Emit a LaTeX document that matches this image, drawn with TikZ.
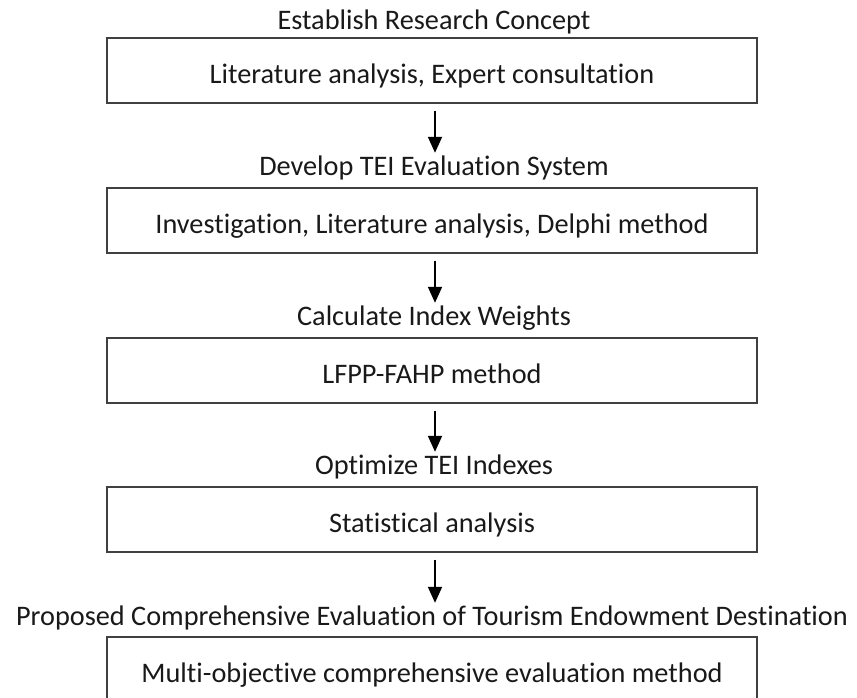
\documentclass[tikz,border=0pt]{standalone}
\usepackage{fontspec}
\setmainfont{Carlito}[Ligatures=NoCommon]
\usetikzlibrary{arrows.meta}
\begin{document}
\begin{tikzpicture}[x=1pt,y=-1pt,
  every node/.style={font=\fontsize{28.3}{32}\selectfont, text=black!90},
  stagebox/.style={draw=black!75, line width=1.3pt, minimum width=650pt,
    minimum height=65pt, inner sep=0pt, text height=25.6pt, text depth=0pt},
  stagetitle/.style={anchor=base, inner sep=0pt, text height=18pt, text depth=0pt},
  flowarrow/.style={line width=1.8pt, -{Triangle[length=16pt,width=14pt]}}]
  \useasboundingbox (0,0) rectangle (857,697);

  % method boxes
  \node[stagebox] (b1) at (432,70.5)  {Literature analysis, Expert consultation};
  \node[stagebox] (b2) at (432,220.5) {Investigation, Literature analysis, Delphi method};
  \node[stagebox] (b3) at (432,370.5) {LFPP-FAHP method};
  \node[stagebox] (b4) at (432,519.5) {Statistical analysis};
  \node[stagebox] (b5) at (432,669.5) {Multi-objective comprehensive evaluation method};

  % stage titles above each box
  \node[stagetitle] (t1) at (434,29)  {Establish Research Concept};
  \node[stagetitle] (t2) at (434,175) {Develop TEI Evaluation System};
  \node[stagetitle] (t3) at (434,325) {Calculate Index Weights};
  \node[stagetitle] (t4) at (434,474) {Optimize TEI Indexes};
  \node[stagetitle] (t5) at (432,625) {Proposed Comprehensive Evaluation of Tourism Endowment Destination};

  % arrows between stages
  \draw[flowarrow] ([xshift=3pt,yshift=-7pt]b1.south) -- ([xshift=1pt,yshift=4pt]t2.north);
  \draw[flowarrow] ([xshift=3pt,yshift=-7pt]b2.south) -- ([xshift=1pt,yshift=4pt]t3.north);
  \draw[flowarrow] ([xshift=3pt,yshift=-7pt]b3.south) -- ([xshift=1pt,yshift=4pt]t4.north);
  \draw[flowarrow] ([xshift=3pt,yshift=-7pt]b4.south) -- ([xshift=3pt,yshift=4pt]t5.north);
\end{tikzpicture}
\end{document}
